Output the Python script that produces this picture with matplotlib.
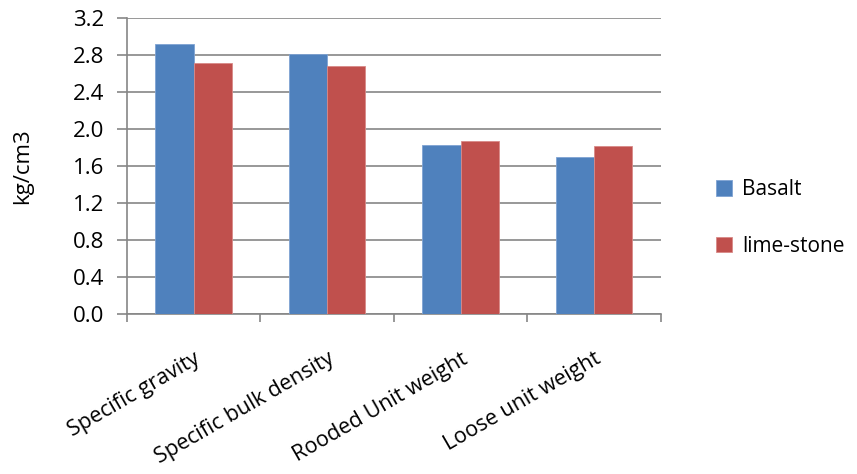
import numpy as np
import matplotlib.pyplot as plt

plt.rcParams['font.family'] = ['Open Sans', 'DejaVu Sans']

# measured properties of the two aggregates
categories = ['Specific gravity', 'Specific bulk density', 'Rooded Unit weight', 'Loose unit weight']
basalt = [2.92, 2.81, 1.83, 1.70]
limestone = [2.71, 2.68, 1.87, 1.82]
yticks = [0.0, 0.4, 0.8, 1.2, 1.6, 2.0, 2.4, 2.8, 3.2]

grey = '#868686'
fs = 16

fig = plt.figure(figsize=(8.57, 4.74), dpi=100)
ax = fig.add_axes([0.148, 0.338, 0.623, 0.624])

x = np.arange(len(categories))
w = 1 / 3.5
ax.bar(x - w / 2, basalt, w, color='#4F81BD', edgecolor='#7FA3D3', linewidth=0.6, label='Basalt', zorder=3)
ax.bar(x + w / 2, limestone, w, color='#C0504D', edgecolor='#D88A88', linewidth=0.6, label='lime-stone', zorder=3)

ax.set_xlim(-0.5, len(categories) - 0.5)
ax.set_ylim(0, 3.2)
ax.set_yticks(yticks)
ax.set_yticklabels(['%.1f' % v for v in yticks], fontsize=fs)
ax.yaxis.grid(True, color=grey, linewidth=1.2, zorder=0)

# category labels centred, tick marks on the boundaries
ax.set_xticks(np.arange(len(categories) + 1) - 0.5)
ax.set_xticklabels([])
ax.set_xticks(x, minor=True)
ax.set_xticklabels(categories, minor=True, rotation=30, ha='right', va='top',
                   rotation_mode='anchor', fontsize=15.5)
ax.tick_params(axis='x', which='minor', length=0, pad=25)
ax.tick_params(axis='x', which='major', length=6, color=grey, width=1.2)
ax.tick_params(axis='y', length=7, color=grey, width=1.2, pad=9)

for s in ['top', 'right']:
    ax.spines[s].set_visible(False)
for s in ['left', 'bottom']:
    ax.spines[s].set_color(grey)
    ax.spines[s].set_linewidth(1.2)

ax.set_ylabel('kg/cm3', fontsize=fs, labelpad=29)

fig.legend(loc='center left', bbox_to_anchor=(0.836, 0.54), frameon=False,
           fontsize=15, handlelength=0.75, handleheight=0.75, labelspacing=1.7,
           handletextpad=0.5, borderpad=0, borderaxespad=0)

fig.savefig('out.png', dpi=100)
